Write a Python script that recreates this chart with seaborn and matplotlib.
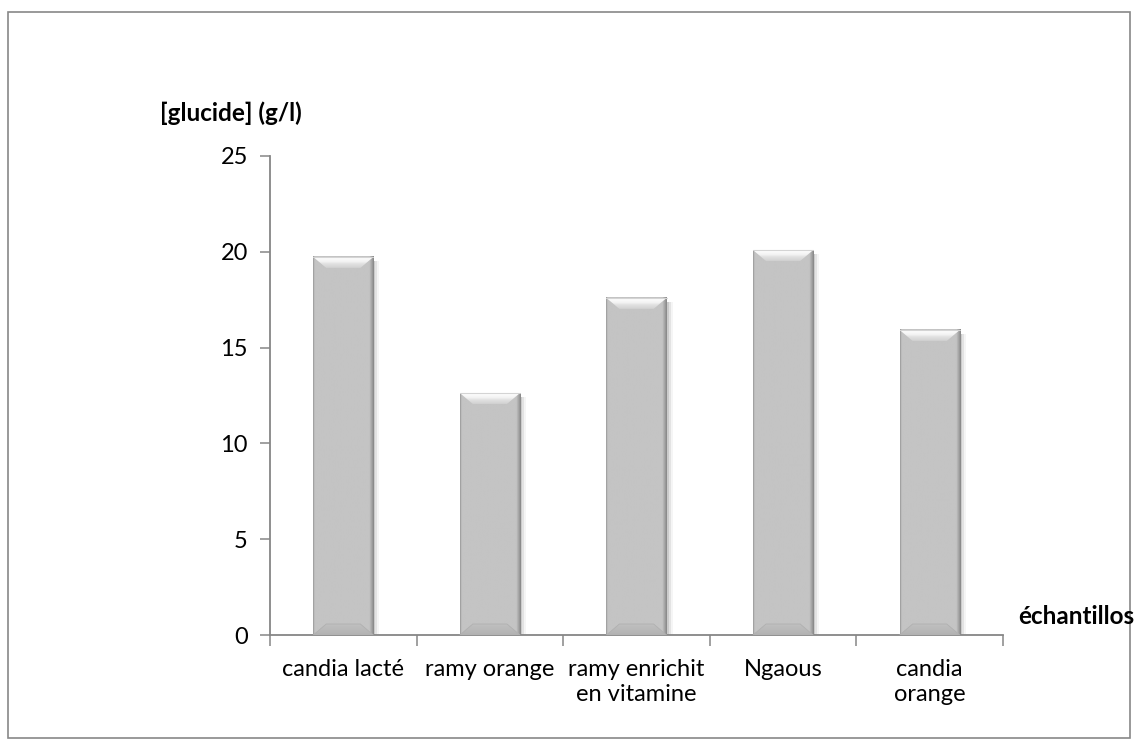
import numpy as np
import pandas as pd
import matplotlib
matplotlib.use("Agg")
import matplotlib.pyplot as plt
import seaborn as sns
from matplotlib.patches import Polygon, Rectangle
from matplotlib.colors import to_rgb

# Sugar concentration per juice sample
samples = ["candia lacté", "ramy orange", "ramy enrichit\nen vitamine", "Ngaous", "candia\norange"]
glucide = [19.73, 12.63, 17.59, 20.09, 15.92]
y_ticks = [0, 5, 10, 15, 20, 25]

sns.set_theme(style="white")
plt.rcParams["font.family"] = ["Lato", "DejaVu Sans"]

W, H = 1136, 747
fig = plt.figure(figsize=(W / 100, H / 100), dpi=100)
ax_l, ax_b, ax_w, ax_h = 270 / W, 1 - 635 / H, 733 / W, 479 / H
ax = fig.add_axes([ax_l, ax_b, ax_w, ax_h])

df = pd.DataFrame({"sample": samples, "glucide": glucide})
sns.barplot(data=df, x="sample", y="glucide", color="#c4c4c4", saturation=1,
            width=0.41, edgecolor="#b8b8b8", linewidth=0.6, ax=ax, zorder=2)

ax.set_xlim(-0.5, len(samples) - 0.5)
ax.set_ylim(0, 25)
xlim, ylim = ax.get_xlim(), ax.get_ylim()

# pixel -> data unit conversions for the bevel geometry
px_x = (xlim[1] - xlim[0]) / (ax_w * W)
px_y = (ylim[1] - ylim[0]) / (ax_h * H)

face = np.array(to_rgb("#c4c4c4"))

def ramp(c0, c1, n):
    t = np.linspace(0, 1, n)[:, None]
    return np.array(to_rgb(c0)) * (1 - t) + np.array(to_rgb(c1)) * t

for p in list(ax.patches):
    x0, w, h = p.get_x(), p.get_width(), p.get_height()
    p.set_visible(False)
    # soft shadow to the right
    for k, a in enumerate([0.10, 0.07, 0.04]):
        ax.add_patch(Rectangle((x0 + w, 0), (k + 1) * 2 * px_x, h - 4 * px_y,
                               facecolor="#000000", alpha=a, lw=0, zorder=1.5))
    # body with horizontal shading (darker side edges)
    prof = np.tile(face, (100, 1))
    prof[:3] = ramp("#9c9c9c", "#bebebe", 3)
    prof[-7:] = ramp("#bcbcbc", "#888888", 7)
    ax.imshow(prof[None, :, :], extent=(x0, x0 + w, 0, h), aspect="auto",
              interpolation="bilinear", zorder=3)
    bx, by = 13 * px_x, 11 * px_y
    # top bevel
    top = Polygon([(x0, h), (x0 + w, h), (x0 + w - bx, h - by), (x0 + bx, h - by)],
                  closed=True, facecolor="none", edgecolor="none", zorder=4)
    ax.add_patch(top)
    grad = ramp("#d0d0d0", "#ffffff", 40)
    grad[20:] = ramp("#f0f0f0", "#ffffff", 20)
    im = ax.imshow(grad[:, None, :], extent=(x0, x0 + w, h - by, h), aspect="auto",
                   origin="lower", interpolation="bilinear", zorder=4)
    im.set_clip_path(top)
    # bottom bevel
    bot = Polygon([(x0, 0), (x0 + w, 0), (x0 + w - bx, by), (x0 + bx, by)],
                  closed=True, facecolor="none", edgecolor="none", zorder=4)
    ax.add_patch(bot)
    gradb = ramp("#b2b2b2", "#c0c0c0", 40)
    imb = ax.imshow(gradb[:, None, :], extent=(x0, x0 + w, 0, by), aspect="auto",
                    origin="lower", interpolation="bilinear", zorder=4)
    imb.set_clip_path(bot)
    ax.plot([x0, x0 + bx, x0 + w - bx, x0 + w], [0, by, by, 0], color="#b0b0b0", lw=0.6, zorder=4.5)
    ax.plot([x0, x0 + w], [h, h], color="#d4d4d4", lw=0.8, zorder=4.5)

ax.set_xlim(xlim)
ax.set_ylim(ylim)

axis_col = "#868686"
sns.despine(ax=ax)
for s in ("left", "bottom"):
    ax.spines[s].set_color(axis_col)
    ax.spines[s].set_linewidth(1.3)

ax.set_yticks(y_ticks)
ax.set_yticklabels([str(v) for v in y_ticks])
ax.tick_params(axis="y", length=7, width=1.1, color=axis_col, direction="out",
               labelsize=17, labelcolor="black", pad=9, left=True)
ax.set_xticks(range(len(samples)))
ax.set_xticklabels(samples, linespacing=1.25)
ax.tick_params(axis="x", which="major", length=0, labelsize=17, labelcolor="black", pad=17)
ax.set_xticks(np.arange(-0.5, len(samples), 1.0), minor=True)
ax.tick_params(axis="x", which="minor", length=8, width=1.1, color=axis_col, direction="out", bottom=True)
ax.set_xlabel("")
ax.set_ylabel("")
ax.grid(False)

fig.text(160 / W, 1 - 113 / H, "[glucide] (g/l)", ha="left", va="center",
         fontsize=17.5, fontweight="bold", color="black")
fig.text(1018 / W, 1 - 617 / H, "échantillos", ha="left", va="center",
         fontsize=17.5, fontweight="bold", color="black")

# outer chart-area border
fig.patches.append(Rectangle((8 / W, 1 - 738 / H), 1122 / W, 726 / H,
                             transform=fig.transFigure, facecolor="none",
                             edgecolor="#888888", linewidth=1.2))

fig.savefig("out.png", dpi=100)
